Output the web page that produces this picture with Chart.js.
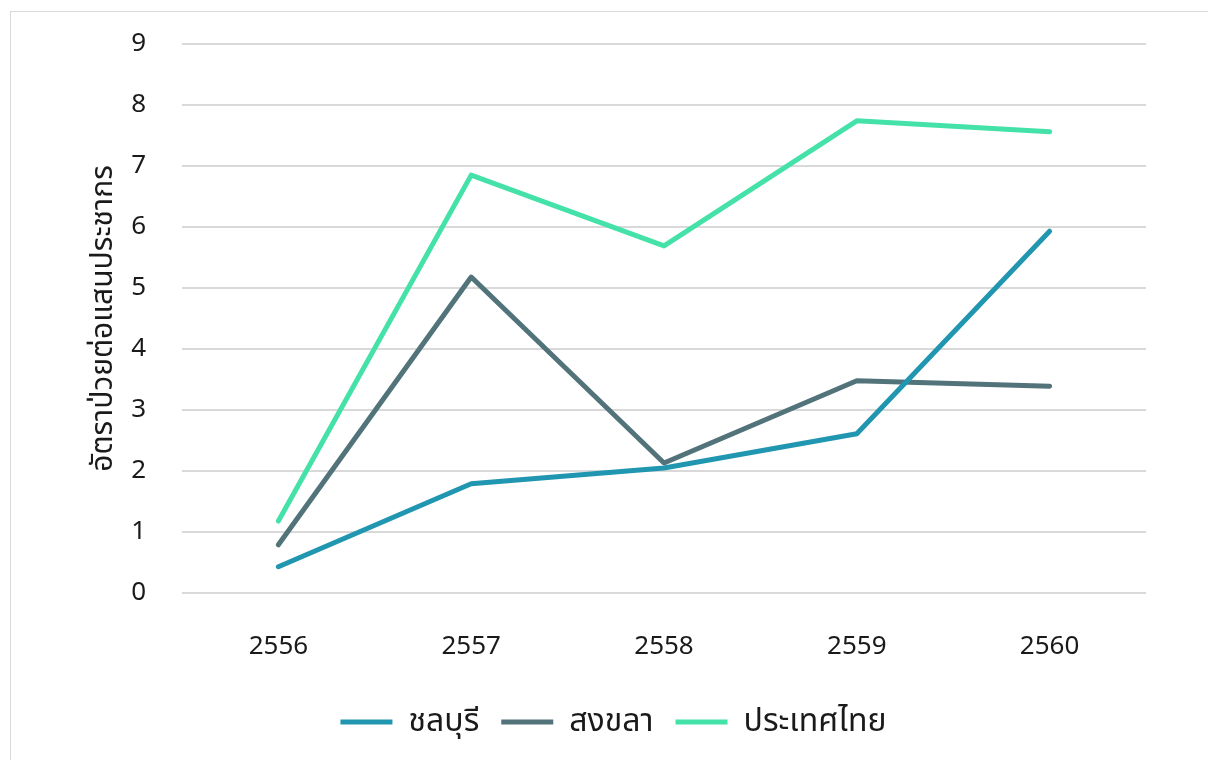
<!DOCTYPE html>
<html>
<head>
<meta charset="utf-8">
<script src="https://cdn.jsdelivr.net/npm/chart.js@4/dist/chart.umd.min.js"></script>
<style>
  body { margin: 0; background: #fff; }
  #frame { position: absolute; left: 10px; top: 11px; width: 1220px; height: 780px; border: 1px solid #d9d9d9; }
  #wrap { position: absolute; left: 0; top: 0; width: 1208px; height: 760px; }
</style>
</head>
<body>
<div id="frame"></div>
<div id="wrap"><canvas id="chart"></canvas></div>
<script>
// values
const years = ['2556', '2557', '2558', '2559', '2560'];
const chonburi = [0.43, 1.79, 2.05, 2.61, 5.93];
const songkhla = [0.79, 5.18, 2.13, 3.48, 3.39];
const thailand = [1.18, 6.85, 5.69, 7.74, 7.56];
const yTicks = [0, 1, 2, 3, 4, 5, 6, 7, 8, 9];

const fontFamily = "'Noto Sans', 'Noto Sans Thai', 'Open Sans', sans-serif";

function series(label, data, color) {
  return {
    label: label,
    data: data,
    borderColor: color,
    backgroundColor: color,
    borderWidth: 5,
    borderCapStyle: 'round',
    borderJoinStyle: 'round',
    pointRadius: 0,
    tension: 0,
    fill: false
  };
}

new Chart(document.getElementById('chart'), {
  type: 'line',
  data: {
    labels: years,
    datasets: [
      series('ชลบุรี', chonburi, '#2196b0'),
      series('สงขลา', songkhla, '#52737a'),
      series('ประเทศไทย', thailand, '#44e2a8')
    ]
  },
  options: {
    responsive: true,
    maintainAspectRatio: false,
    animation: false,
    layout: {
      padding: { top: 44, left: 81, right: 62, bottom: 12 }
    },
    scales: {
      x: {
        offset: true,
        afterFit: function(scale) { scale.height = 91; },
        grid: { display: false, drawTicks: false },
        border: { display: false },
        ticks: {
          padding: 38,
          color: '#1a1a1a',
          font: { family: fontFamily, size: 26 }
        }
      },
      y: {
        min: 0,
        max: 9,
        afterFit: function(scale) {
          scale.width = 101;
          scale.paddingTop = 0;
          scale.paddingBottom = 0;
        },
        afterBuildTicks: function(scale) {
          scale.ticks = yTicks.map(v => ({ value: v }));
        },
        grid: { color: '#d9d9d9', lineWidth: 2, drawTicks: false },
        border: { display: false },
        ticks: {
          padding: 36,
          color: '#1a1a1a',
          font: { family: fontFamily, size: 26 }
        },
        title: {
          display: true,
          text: 'อัตราป่วยต่อแสนประชากร',
          color: '#1a1a1a',
          padding: { top: 4, bottom: 4 },
          font: { family: fontFamily, size: 30 }
        }
      }
    },
    plugins: {
      legend: {
        position: 'bottom',
        labels: {
          boxWidth: 52,
          boxHeight: 5,
          useBorderRadius: true,
          borderRadius: 2.5,
          padding: 22,
          color: '#1a1a1a',
          font: { family: fontFamily, size: 32 },
          generateLabels: function(chart) {
            return chart.data.datasets.map((ds, i) => ({
              text: ds.label,
              fillStyle: ds.borderColor,
              strokeStyle: ds.borderColor,
              lineWidth: 0,
              fontColor: '#1a1a1a',
              datasetIndex: i
            }));
          }
        }
      },
      tooltip: { enabled: false }
    }
  }
});
</script>
</body>
</html>
